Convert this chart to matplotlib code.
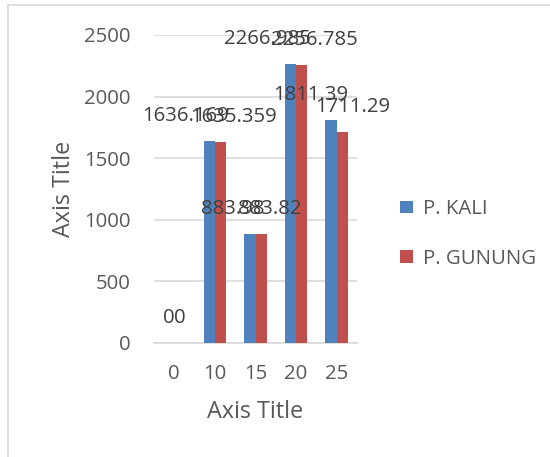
import matplotlib.pyplot as plt
import numpy as np
from matplotlib.patches import Rectangle

plt.rcParams['font.family'] = ['Open Sans', 'DejaVu Sans']

categories = ['0', '10', '15', '20', '25']
kali = [0, 1636.169, 883.98, 2266.985, 1811.39]
gunung = [0, 1635.359, 883.82, 2256.785, 1711.29]
kali_labels = ['0', '1636.169', '883.98', '2266.985', '1811.39']
gunung_labels = ['0', '1635.359', '883.82', '2256.785', '1711.29']
series_names = ['P. KALI', 'P. GUNUNG']

BLUE = '#4F81BD'
RED = '#C0504D'
TXT = '#595959'
GRID = '#D9D9D9'
FS = 14.7
FS_TITLE = 16.8

fig = plt.figure(figsize=(5.5, 4.57), dpi=100)
# outer chart border (cut off at right / bottom)
fig.patches.append(Rectangle((8 / 550, -0.1), 1.2, 1 - 5 / 457 + 0.1,
                             transform=fig.transFigure, fill=False,
                             edgecolor=GRID, linewidth=1.2))

ax = fig.add_axes([154 / 550, 1 - 343 / 457, 203 / 550, 308 / 457])
x = np.arange(len(categories))
w = 0.28
b1 = ax.bar(x - w / 2, kali, w, color=BLUE, label=series_names[0], zorder=3)
b2 = ax.bar(x + w / 2, gunung, w, color=RED, label=series_names[1], zorder=3)

# labels drift sideways like in the excel render (blue left, red right)
for bars, labels, shift in [(b1, kali_labels, -2.4), (b2, gunung_labels, 1.3)]:
    for rect, lab in zip(bars, labels):
        ax.annotate(lab, (rect.get_x() + rect.get_width() / 2, rect.get_height()),
                    xytext=(shift * (len(lab) - 1), 18), textcoords='offset points',
                    ha='center', va='center', fontsize=FS, color='#404040', zorder=4)

ax.set_xlim(-0.5, len(categories) - 0.5)
ax.set_ylim(0, 2500)
ax.set_yticks(range(0, 2501, 500))
ax.set_xticks(x)
ax.set_xticklabels(categories)
ax.yaxis.grid(True, color=GRID, linewidth=1.2, zorder=0)
for s in ['top', 'right', 'left']:
    ax.spines[s].set_visible(False)
ax.spines['bottom'].set_color(GRID)
ax.spines['bottom'].set_linewidth(1.2)
ax.tick_params(axis='y', length=0, pad=17, labelsize=FS, labelcolor=TXT)
ax.tick_params(axis='x', length=0, pad=15, labelsize=FS, labelcolor=TXT)

ax.set_xlabel('Axis Title', fontsize=FS_TITLE, color=TXT, labelpad=12)
ax.set_ylabel('Axis Title', fontsize=FS_TITLE, color=TXT, labelpad=6)

fig.legend(handles=[b1, b2], loc='center left', bbox_to_anchor=(382 / 550, 1 - 234 / 457),
           frameon=False, fontsize=FS, labelcolor=TXT, handlelength=0.6,
           handleheight=0.6, handletextpad=0.5, labelspacing=1.45)

plt.savefig('out.png', dpi=100)
